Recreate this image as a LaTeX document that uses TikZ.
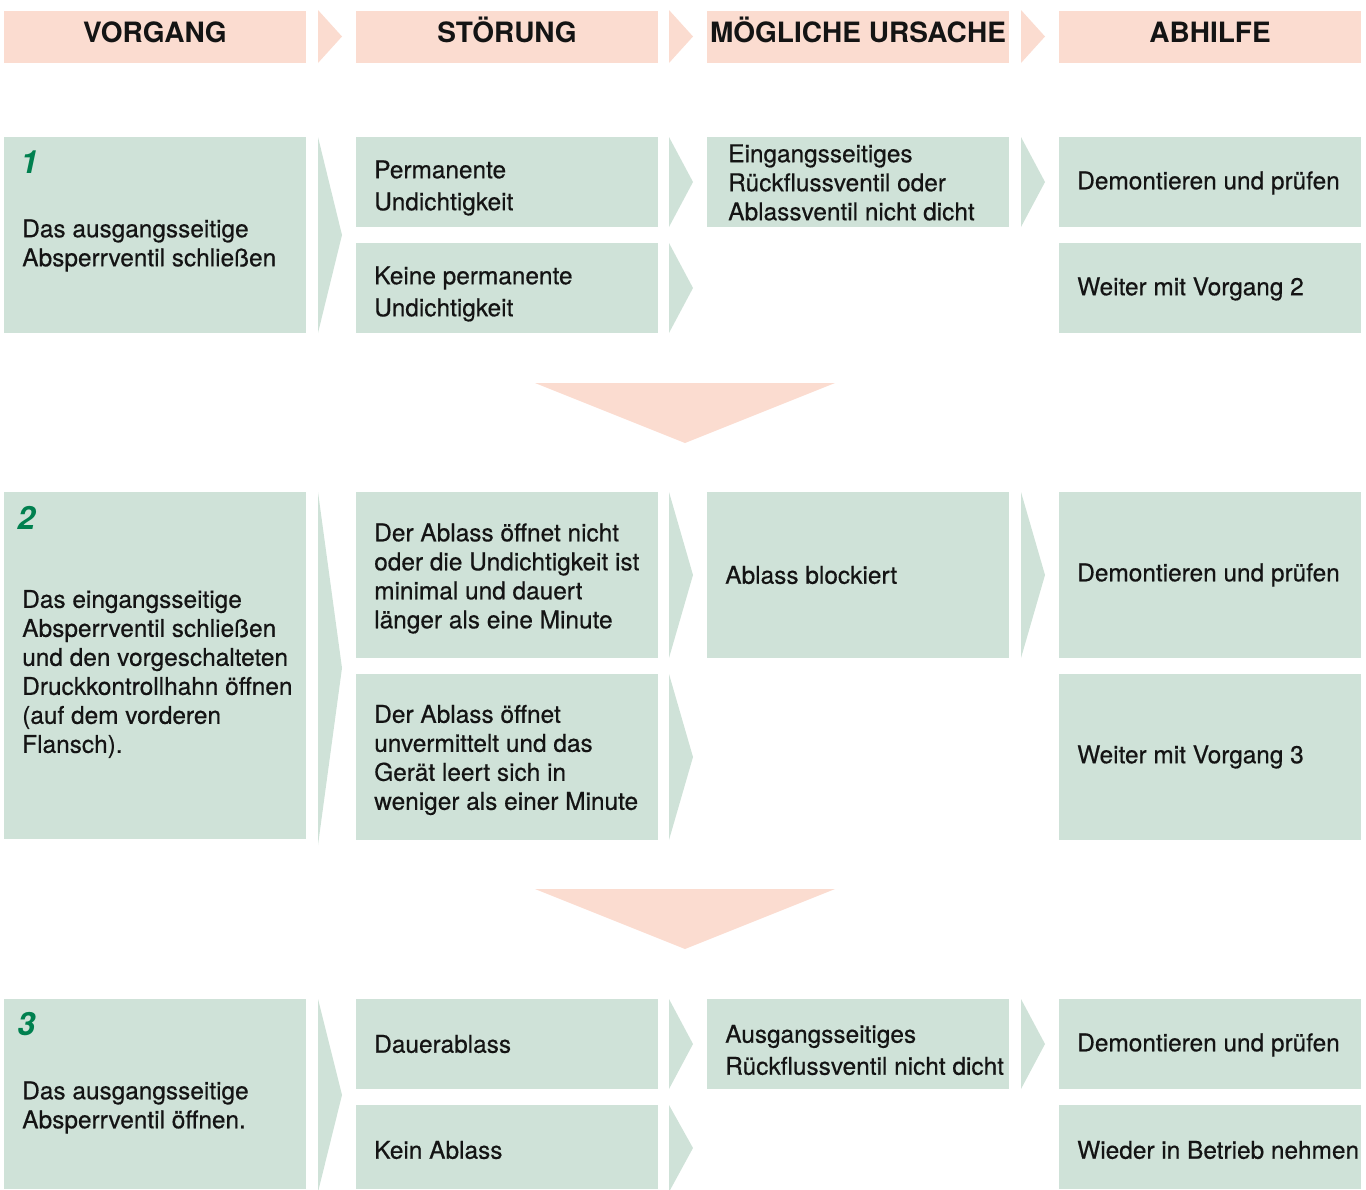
\documentclass[tikz,border=0pt]{standalone}
\usepackage{fontspec}
\setmainfont{TeX Gyre Heros}
\newfontfamily\medfont[FakeBold=0.5]{TeX Gyre Heros}
\definecolor{peach}{HTML}{FBDCD0}
\definecolor{mint}{HTML}{CFE2D8}
\definecolor{numgreen}{HTML}{00804F}
\begin{document}
\begin{tikzpicture}[x=0.75pt,y=-0.75pt,
  pfill/.style={fill=peach,draw=none},
  gfill/.style={fill=mint,draw=none},
  head/.style={font=\fontsize{21}{24}\selectfont\bfseries,inner sep=0,anchor=base,text=black!92},
  txt/.style={font=\medfont\fontsize{18.3}{21.75}\selectfont,inner sep=0,align=left,anchor=west,text=black!92,yshift=-1.5pt},
  txtw/.style={font=\medfont\fontsize{18.3}{24}\selectfont,inner sep=0,align=left,anchor=west,text=black!92,yshift=-1.5pt},
  num/.style={font=\fontsize{24}{28}\selectfont\bfseries\itshape,inner sep=0,anchor=west,text=numgreen}]
\useasboundingbox (0,0) rectangle (1366,1189);
% header
\fill[pfill] (4,11) rectangle (306,63);
\fill[pfill] (356,11) rectangle (658,63);
\fill[pfill] (707,11) rectangle (1009,63);
\fill[pfill] (1059,11) rectangle (1361,63);
\fill[pfill] (318,10) -- (342,36.5) -- (318,63) -- cycle;
\fill[pfill] (669,10) -- (693,36.5) -- (669,63) -- cycle;
\fill[pfill] (1021,10) -- (1045,36.5) -- (1021,63) -- cycle;
\node[head] (h1) at (155,42.5) {VORGANG};
\node[head] (h2) at (507,42.5) {STÖRUNG};
\node[head] (h3) at (858,42.5) {MÖGLICHE URSACHE};
\node[head] (h4) at (1210,42.5) {ABHILFE};
% row 1
\fill[gfill] (4,137) rectangle (306,333);
\fill[gfill] (318,137) -- (342,235) -- (318,333) -- cycle;
\fill[gfill] (356,137) rectangle (658,227);
\fill[gfill] (356,243) rectangle (658,333);
\fill[gfill] (669,137) -- (693,182) -- (669,227) -- cycle;
\fill[gfill] (669,243) -- (693,288) -- (669,333) -- cycle;
\fill[gfill] (707,137) rectangle (1009,227);
\fill[gfill] (1021,137) -- (1045,182) -- (1021,227) -- cycle;
\fill[gfill] (1059,137) rectangle (1361,227);
\fill[gfill] (1059,243) rectangle (1361,333);
\node[num] (n1) at (20,162) {1};
\node[txt] (a1) at (22,243.5) {Das ausgangsseitige\\Absperrventil schließen};
\node[txtw] (b1) at (374,186) {Permanente\\Undichtigkeit};
\node[txtw] (b2) at (374,292) {Keine permanente\\Undichtigkeit};
\node[txt] (c1) at (728,180.5) {Eingangsseitiges\\Rückflussventil oder\\Ablassventil nicht dicht};
\node[txt] (d1) at (1077,181) {Demontieren und prüfen};
\node[txt] (d2) at (1077,287) {Weiter mit Vorgang 2};
% down arrow 1
\fill[pfill] (535,383) -- (835,383) -- (685,443) -- cycle;
% row 2
\fill[gfill] (4,492) rectangle (306,839);
\fill[gfill] (318,492) -- (342,668) -- (318,845) -- cycle;
\fill[gfill] (356,492) rectangle (658,658);
\fill[gfill] (356,674) rectangle (658,840);
\fill[gfill] (669,492) -- (693,575) -- (669,658) -- cycle;
\fill[gfill] (669,674) -- (693,757) -- (669,840) -- cycle;
\fill[gfill] (707,492) rectangle (1009,658);
\fill[gfill] (1021,492) -- (1045,575) -- (1021,658) -- cycle;
\fill[gfill] (1059,492) rectangle (1361,658);
\fill[gfill] (1059,674) rectangle (1361,840);
\node[num] (n2) at (17,518) {2};
\node[txt] (a2) at (22,672) {Das eingangsseitige\\Absperrventil schließen\\und den vorgeschalteten\\Druckkontrollhahn öffnen\\(auf dem vorderen\\Flansch).};
\node[txt] (b3) at (374,576.5) {Der Ablass öffnet nicht\\oder die Undichtigkeit ist\\minimal und dauert\\länger als eine Minute};
\node[txt] (b4) at (374,758) {Der Ablass öffnet\\unvermittelt und das\\Gerät leert sich in\\weniger als einer Minute};
\node[txt] (c2) at (725,573) {Ablass blockiert};
\node[txt] (d3) at (1077,573) {Demontieren und prüfen};
\node[txt] (d4) at (1077,755) {Weiter mit Vorgang 3};
% down arrow 2
\fill[pfill] (535,889) -- (835,889) -- (685,949) -- cycle;
% row 3
\fill[gfill] (4,999) rectangle (306,1189);
\fill[gfill] (318,999) -- (342,1095) -- (318,1192) -- cycle;
\fill[gfill] (356,999) rectangle (658,1089);
\fill[gfill] (356,1105) rectangle (658,1189);
\fill[gfill] (669,999) -- (693,1044) -- (669,1089) -- cycle;
\fill[gfill] (669,1105) -- (693,1148) -- (669,1192) -- cycle;
\fill[gfill] (707,999) rectangle (1009,1089);
\fill[gfill] (1021,999) -- (1045,1044) -- (1021,1089) -- cycle;
\fill[gfill] (1059,999) rectangle (1361,1089);
\fill[gfill] (1059,1105) rectangle (1361,1189);
\node[num] (n3) at (17,1024) {3};
\node[txt] (a3) at (22,1105.5) {Das ausgangsseitige\\Absperrventil öffnen.};
\node[txt] (b5) at (374,1042) {Dauerablass};
\node[txt] (b6) at (374,1148) {Kein Ablass};
\node[txtw] (c3) at (725,1048) {Ausgangsseitiges\\Rückflussventil nicht dicht};
\node[txt] (d5) at (1077,1043) {Demontieren und prüfen};
\node[txt] (d6) at (1077,1148) {Wieder in Betrieb nehmen};
\end{tikzpicture}
\end{document}
